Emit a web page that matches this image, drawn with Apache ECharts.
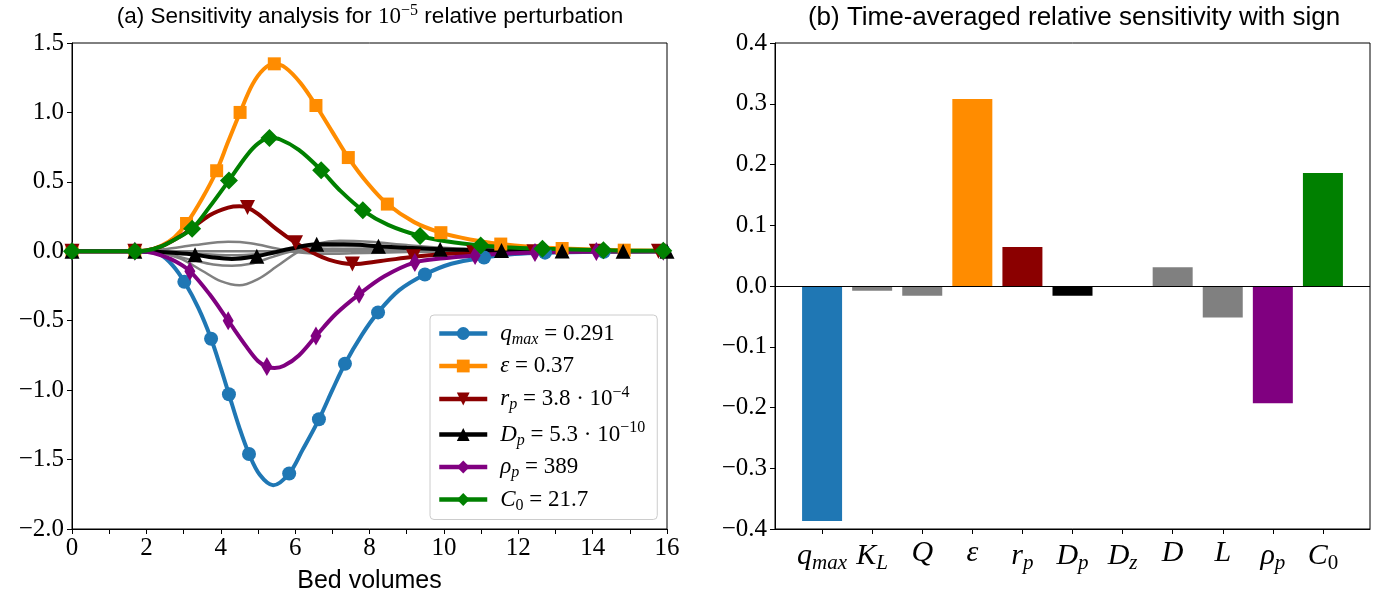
<!DOCTYPE html>
<html><head><meta charset="utf-8">
<script src="https://cdn.jsdelivr.net/npm/echarts@6/dist/echarts.min.js"></script>
<style>html,body{margin:0;padding:0;background:#fff}#c{width:1394px;height:604px}</style>
</head><body><div id="c"></div>
<script>
// ---------- Data: panel (a) curves [bed volumes, sensitivity] ----------
const qmaxCurve = [[0,0],[1.0,0],[1.69,0],[2.0,-0.003],[2.35,-0.02],[2.7,-0.1],[3.02,-0.22],[3.4,-0.41],[3.74,-0.63],[4.0,-0.84],[4.22,-1.03],[4.5,-1.27],[4.76,-1.46],[5.05,-1.61],[5.41,-1.685],[5.84,-1.60],[6.2,-1.43],[6.64,-1.21],[7.0,-1.0],[7.34,-0.81],[7.8,-0.6],[8.23,-0.44],[8.8,-0.28],[9.49,-0.167],[10.2,-0.09],[11.08,-0.045],[11.9,-0.02],[12.72,-0.01],[14.3,-0.003],[15.9,0],[16,0]];
const qmaxMarkX = [0,1.69,3.02,3.74,4.22,4.76,5.84,6.64,7.34,8.23,9.49,11.08,12.72,14.3,15.9];

const epsCurve = [[0,0],[1.0,0],[1.69,0],[2.0,0.005],[2.4,0.04],[2.75,0.1],[3.08,0.2],[3.5,0.38],[3.89,0.58],[4.2,0.79],[4.52,1.0],[4.85,1.2],[5.15,1.31],[5.44,1.35],[5.75,1.32],[6.15,1.21],[6.56,1.05],[7.0,0.86],[7.43,0.675],[7.95,0.49],[8.48,0.34],[9.2,0.21],[9.92,0.134],[10.7,0.085],[11.53,0.052],[12.3,0.032],[13.18,0.02],[14.85,0.008],[16,0.003]];
const epsMarkX = [0,1.69,3.08,3.89,4.52,5.44,6.56,7.43,8.48,9.92,11.53,13.18,14.85];

const rpCurve = [[0,0],[1.0,0],[1.69,0],[2.0,0.005],[2.4,0.035],[2.8,0.09],[3.2,0.16],[3.7,0.26],[4.2,0.315],[4.5,0.325],[4.72,0.315],[5.0,0.27],[5.5,0.16],[6.01,0.062],[6.4,0.0],[6.9,-0.06],[7.54,-0.092],[8.3,-0.07],[9.18,-0.04],[10.0,-0.02],[10.8,-0.01],[12.42,-0.003],[14.1,0],[15.77,0],[16,0]];
const rpMarkX = [0,1.69,4.72,6.01,7.54,9.18,10.8,12.42,14.1,15.77];

const dpCurve = [[0,0],[1.0,0],[1.69,0],[2.2,-0.004],[2.8,-0.013],[3.31,-0.025],[3.8,-0.045],[4.3,-0.055],[4.97,-0.035],[5.4,-0.01],[5.9,0.02],[6.58,0.05],[7.3,0.05],[8.24,0.037],[9.0,0.025],[9.9,0.015],[10.7,0.01],[11.55,0.006],[13.18,0.002],[14.82,0.001],[16,0]];
const dpMarkX = [0,1.69,3.31,4.97,6.58,8.24,9.9,11.55,13.18,14.82,16];

const rhoCurve = [[0,0],[1.0,0],[1.69,0],[2.0,-0.004],[2.4,-0.03],[2.8,-0.075],[3.17,-0.143],[3.7,-0.31],[4.2,-0.5],[4.7,-0.69],[5.0,-0.79],[5.24,-0.83],[5.45,-0.84],[5.7,-0.825],[6.1,-0.75],[6.56,-0.61],[7.1,-0.45],[7.72,-0.31],[8.4,-0.18],[9.22,-0.08],[10.0,-0.05],[10.84,-0.03],[11.6,-0.017],[12.45,-0.008],[14.1,-0.002],[15.9,0],[16,0]];
const rhoMarkX = [0,1.69,3.17,4.2,5.24,6.56,7.72,9.22,10.84,12.45,14.1,15.9];

const c0Curve = [[0,0],[1.0,0],[1.69,0],[2.0,0.005],[2.4,0.035],[2.8,0.09],[3.23,0.163],[3.7,0.32],[4.22,0.51],[4.7,0.69],[5.0,0.775],[5.31,0.815],[5.6,0.805],[6.1,0.73],[6.7,0.584],[7.2,0.44],[7.82,0.295],[8.5,0.19],[9.36,0.11],[10.1,0.07],[10.99,0.042],[11.8,0.028],[12.65,0.018],[14.29,0.008],[15.9,0.003],[16,0.003]];
const c0MarkX = [0,1.69,3.23,4.22,5.31,6.7,7.82,9.36,10.99,12.65,14.29,15.9];

// gray (parameters without legend entry)
const klCurve = [[0,0],[1.69,0],[3.0,-0.012],[4.3,-0.028],[5.3,-0.015],[6.0,0.0],[7.0,0.018],[8.5,0.018],[10,0.01],[12,0.003],[16,0]];
const qCurve = [[0,0],[1.69,0],[2.5,-0.02],[3.2,-0.06],[3.8,-0.095],[4.3,-0.105],[4.8,-0.09],[5.4,-0.04],[5.9,0.0],[6.5,0.03],[7.3,0.04],[8.5,0.03],[10,0.015],[12,0.004],[16,0]];
const dzCurve = [[0,0],[16,0]];
const dCurve = [[0,0],[1.69,0],[2.5,0.015],[3.3,0.045],[4.2,0.068],[4.8,0.058],[5.5,0.02],[6.0,-0.005],[6.7,-0.018],[7.5,-0.015],[9,-0.006],[11,-0.001],[16,0]];
const lCurve = [[0,0],[1.69,0],[2.3,-0.008],[2.9,-0.05],[3.5,-0.14],[4.0,-0.215],[4.5,-0.245],[5.0,-0.2],[5.5,-0.11],[6.1,0.0],[6.6,0.055],[7.2,0.075],[8.0,0.068],[9.0,0.045],[10.0,0.025],[11.0,0.012],[12.0,0.005],[13.5,0.001],[16,0]];

// ---------- Data: panel (b) ----------
const barCategories = ['qmax','KL','Q','eps','rp','Dp','Dz','D','L','rhop','C0'];
const barValues = [-0.387,-0.008,-0.016,0.308,0.064,-0.016,0.0,0.031,-0.052,-0.193,0.186];

// tick values
const xTicksA = [0,1,2,3,4,5,6,7,8,9,10,11,12,13,14,15,16];
const barTickPos = [0,1,2,3,4,5,6,7,8,9,10];

// ---------- styling ----------
const C = {blue:'#1f77b4', orange:'#ff8c00', red:'#8b0000', black:'#000000', purple:'#800080', green:'#008000', gray:'#808080'};
const barColors = [C.blue,C.gray,C.gray,C.orange,C.red,C.black,C.gray,C.gray,C.gray,C.purple,C.green];
const SERIF = 'Liberation Serif';
const SANS = 'Liberation Sans';

function mathRich(sz){
  const sub = Math.round(sz*0.7);
  return {
    i:{fontFamily:SERIF,fontStyle:'italic',fontSize:sz,color:'#000'},
    n:{fontFamily:SERIF,fontSize:sz,color:'#000'},
    s:{fontFamily:SERIF,fontStyle:'italic',fontSize:sub,color:'#000',padding:[Math.round(sz*0.5),0,0,0]},
    sn:{fontFamily:SERIF,fontSize:sub,color:'#000',padding:[Math.round(sz*0.5),0,0,0]},
    sup:{fontFamily:SERIF,fontSize:sub,color:'#000',padding:[0,0,Math.round(sz*0.55),0]}
  };
}
const catLabel = {qmax:'{i|q}{s|max}', KL:'{i|K}{s|L}', Q:'{i|Q}', eps:'{i|ε}', rp:'{i|r}{s|p}', Dp:'{i|D}{s|p}', Dz:'{i|D}{s|z}', D:'{i|D}', L:'{i|L}', rhop:'{i|ρ}{s|p}', C0:'{i|C}{sn|0}'};
const legendLabel = {
  qmax:'{i|q}{s|max}{n| = 0.291}',
  eps:'{i|ε}{n| = 0.37}',
  rp:'{i|r}{s|p}{n| = 3.8 · 10}{sup|−4}',
  Dp:'{i|D}{s|p}{n| = 5.3 · 10}{sup|−10}',
  rhop:'{i|ρ}{s|p}{n| = 389}',
  C0:'{i|C}{sn|0}{n| = 21.7}'
};
const fmt1 = v => (v < -1e-9 ? '−' + Math.abs(v).toFixed(1) : Math.abs(v).toFixed(1));

function buildData(curve, markX){
  return curve.map(p => {
    const isMark = markX && markX.some(m => Math.abs(m - p[0]) < 1e-9);
    return isMark ? {value:p} : {value:p, symbol:'none'};
  });
}
function lineSeries(name, curve, markX, color, symbol, size, extra){
  return Object.assign({
    name, type:'line', xAxisIndex:0, yAxisIndex:0,
    data: buildData(curve, markX), smooth:0.35,
    showSymbol:true, showAllSymbol:true, symbol, symbolSize:size,
    lineStyle:{color, width:4}, itemStyle:{color, borderWidth:0},
    clip:true, emphasis:{disabled:true}, z:3
  }, extra||{});
}
function graySeries(name, curve){
  return {name, type:'line', xAxisIndex:0, yAxisIndex:0, data:curve, smooth:0.35,
    showSymbol:false, symbol:'none', lineStyle:{color:C.gray, width:2.5}, itemStyle:{color:C.gray},
    emphasis:{disabled:true}, z:2};
}

const chart = echarts.init(document.getElementById('c'), null, {renderer:'canvas'});
const axisLineStyle = {show:true, onZero:false, lineStyle:{color:'#000', width:1}};
chart.setOption({
  animation:false,
  backgroundColor:'#fff',
  grid:[
    {left:72, top:43, width:595, height:486, show:true, borderColor:'#000', borderWidth:1, backgroundColor:'transparent'},
    {left:775, top:43, width:595, height:486, show:true, borderColor:'#000', borderWidth:1, backgroundColor:'transparent'}
  ],
  xAxis:[
    {type:'value', gridIndex:0, min:0, max:16, interval:2,
     axisLine:axisLineStyle, splitLine:{show:false},
     axisTick:{show:true, length:5, customValues:xTicksA, lineStyle:{color:'#000'}},
     axisLabel:{fontFamily:SERIF, fontSize:25, color:'#000', margin:7, formatter:v=>String(v)},
     name:'Bed volumes', nameLocation:'middle', nameGap:40,
     nameTextStyle:{fontFamily:SANS, fontSize:25, color:'#000'}},
    {type:'value', gridIndex:1, min:-0.94, max:10.94,
     axisLine:axisLineStyle, splitLine:{show:false},
     axisTick:{show:true, length:5, customValues:barTickPos, lineStyle:{color:'#000'}},
     axisLabel:{customValues:barTickPos, margin:9, formatter:v=>catLabel[barCategories[Math.round(v)]], rich:mathRich(30)}}
  ],
  yAxis:[
    {type:'value', gridIndex:0, min:-2, max:1.5, interval:0.5,
     axisLine:axisLineStyle, splitLine:{show:false},
     axisTick:{show:true, length:5, lineStyle:{color:'#000'}},
     axisLabel:{fontFamily:SERIF, fontSize:25, color:'#000', margin:8, formatter:fmt1}},
    {type:'value', gridIndex:1, min:-0.4, max:0.4, interval:0.1,
     axisLine:axisLineStyle, splitLine:{show:false},
     axisTick:{show:true, length:5, lineStyle:{color:'#000'}},
     axisLabel:{fontFamily:SERIF, fontSize:25, color:'#000', margin:8, formatter:fmt1}}
  ],
  legend:{
    data:['qmax','eps','rp','Dp','rhop','C0'],
    orient:'vertical', left:430, top:315,
    backgroundColor:'#fff', borderColor:'#cccccc', borderWidth:1, borderRadius:4,
    padding:[7,12,6,7], itemGap:7, itemWidth:48, itemHeight:16,
    lineStyle:{width:4.5},
    formatter:name=>legendLabel[name],
    textStyle:{rich:mathRich(23), padding:[0,0,0,8]},
    selectedMode:false
  },
  graphic:[
    {type:'text', x:370, y:17, silent:true, style:{
      text:'(a) Sensitivity analysis for {m|10}{sup|−5} relative perturbation',
      fontFamily:SANS, fontSize:22.5, fill:'#000', align:'center', verticalAlign:'middle',
      rich:{m:{fontFamily:SERIF, fontSize:23, color:'#000'}, sup:{fontFamily:SERIF, fontSize:16, color:'#000', padding:[0,0,12,0]}}}},
    {type:'text', x:1074, y:18, silent:true, style:{
      text:'(b) Time-averaged relative sensitivity with sign',
      fontFamily:SANS, fontSize:26, fill:'#000', align:'center', verticalAlign:'middle'}}
  ],
  series:[
    lineSeries('qmax', qmaxCurve, qmaxMarkX, C.blue, 'circle', 14),
    graySeries('KL', klCurve),
    graySeries('Q', qCurve),
    lineSeries('eps', epsCurve, epsMarkX, C.orange, 'rect', 13),
    lineSeries('rp', rpCurve, rpMarkX, C.red, 'triangle', 15, {symbolRotate:180}),
    lineSeries('Dp', dpCurve, dpMarkX, C.black, 'triangle', 15),
    graySeries('Dz', dzCurve),
    graySeries('D', dCurve),
    graySeries('L', lCurve),
    lineSeries('rhop', rhoCurve, rhoMarkX, C.purple, 'diamond', [11,19]),
    lineSeries('C0', c0Curve, c0MarkX, C.green, 'diamond', 18),
    {name:'bars', type:'bar', xAxisIndex:1, yAxisIndex:1, barWidth:40,
     data:barValues.map((v,i)=>({value:[i,v], itemStyle:{color:barColors[i]}})),
     emphasis:{disabled:true},
     markLine:{silent:true, symbol:'none', label:{show:false}, lineStyle:{color:'#000', width:1.2, type:'solid'},
       data:[{yAxis:0}]}}
  ]
});
</script></body></html>
